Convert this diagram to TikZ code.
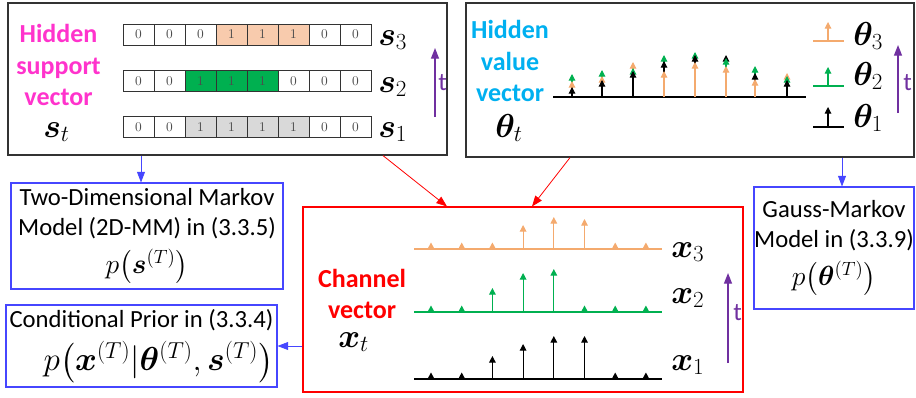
\documentclass[tikz,border=0pt]{standalone}
\usepackage{amsmath}
\usepackage{bm}
\usepackage{fontspec}
\newfontfamily\calib{Carlito}
\usetikzlibrary{arrows.meta,positioning}

\definecolor{suppmag}{RGB}{255,51,204}
\definecolor{valcyan}{RGB}{0,176,240}
\definecolor{orng}{RGB}{244,170,110}
\definecolor{cellorng}{RGB}{248,203,173}
\definecolor{grn}{RGB}{0,176,80}
\definecolor{cellgray}{RGB}{217,217,217}
\definecolor{tpurple}{RGB}{112,48,160}
\definecolor{mblue}{RGB}{70,70,255}

\begin{document}
\begin{tikzpicture}[x=0.75pt,y=-0.75pt,
  panel/.style={draw=black!80, line width=0.9pt},
  modelbox/.style={draw=mblue, line width=0.8pt, inner sep=0pt,
    font=\calib\fontsize{18.5}{22}\selectfont},
  cell/.style={draw=black!80, line width=0.5pt, minimum width=23.25pt,
    minimum height=15.5pt, inner sep=0pt, text=black!70,
    font=\fontsize{10}{10}\selectfont},
  headline/.style={font=\calib\bfseries\fontsize{19.5}{23.5}\selectfont,
    align=center, inner sep=0pt},
  vlab/.style={font=\fontsize{25}{25}\selectfont, inner sep=0pt, anchor=base west},
  tarrow/.style={tpurple, line width=1pt, -{Triangle[width=6pt,length=8pt]}},
  tlab/.style={tpurple, font=\calib\fontsize{19}{19}\selectfont, inner sep=0pt,
    anchor=base west},
  link/.style={line width=0.6pt, -{Triangle[width=6pt,length=8pt]}},
  stem/.style={line width=0.8pt, -{Triangle[width=5pt,length=5pt]}},
]
\useasboundingbox (0,0) rectangle (916,397);

% Define nodes
\node[panel, minimum width=329.25pt, minimum height=114pt] (supp) at (227.5,79) {};
\node[panel, minimum width=336pt, minimum height=115.5pt] (val) at (690,80) {};
\node[draw=red, line width=0.8pt, minimum width=330pt, minimum height=138.75pt] (chan) at (523,299.5) {};

\node[modelbox, minimum width=204pt, minimum height=79.5pt, align=center] (mm) at (147,236)
  {Two-Dimensional Markov\\Model (2D-MM) in (3.3.5)\\[7pt]
   \fontsize{21}{22}\selectfont$p\big(\bm{s}^{(T)}\big)$};
\node[modelbox, minimum width=203.25pt, minimum height=61.5pt, align=right] (cond) at (141.5,346)
  {Conditional Prior in (3.3.4)\\[7pt]
   \fontsize{23}{24}\selectfont$p\big(\bm{x}^{(T)}|\bm{\theta}^{(T)},\bm{s}^{(T)}\big)$};
\node[modelbox, minimum width=120pt, minimum height=91.5pt, align=center] (gm) at (834,248)
  {Gauss-Markov\\Model in (3.3.9)\\[7pt]
   \fontsize{21}{22}\selectfont$p\big(\bm{\theta}^{(T)}\big)$};

% support vectors
\node[headline, text=suppmag] (supptxt) at (58.5,65) {Hidden\\support\\vector};
\node[vlab] (st) at (43,137) {$\bm{s}_t$};
\foreach \row/\yy/\col/\bits in {3/34.5/cellorng/{0,0,0,1,1,1,0,0},
                                 2/81/grn/{0,0,1,1,1,0,0,0},
                                 1/127/cellgray/{0,0,1,1,1,1,0,0}} {
  \foreach \b [count=\i] in \bits {
    \ifnum\b=1 \def\fc{\col}\else\def\fc{white}\fi
    \node[cell, fill=\fc] (c\row\i) at ({123+31*(\i-0.5)},\yy) {\b};
  }
}
\node[vlab] (s3) at (378,45) {$\bm{s}_3$};
\node[vlab] (s2) at (378,92) {$\bm{s}_2$};
\node[vlab] (s1) at (378,137) {$\bm{s}_1$};
\draw[tarrow] (435,117) -- (435,48);
\node[tlab] (tsupp) at (438,90) {t};

% value vectors
\node[headline, text=valcyan] (valtxt) at (510,61) {Hidden\\value\\vector};
\node[vlab] (tht) at (495,137) {$\bm{\theta}_t$};
\draw[line width=0.8pt] (553,97) -- (806,97);
\foreach \x/\h/\c in {572/23/grn, 572/16/orng, 572/10/black,
                      602/27/grn, 602/21/orng, 602/17/black,
                      633/35/orng, 633/29/grn, 633/26/black,
                      664/42/grn, 664/36/black, 664/26/orng,
                      695/45/grn, 695/42/black, 695/35/orng,
                      726/42/black, 726/39/grn, 726/31/orng,
                      755/31/grn, 755/24/black, 755/18/orng,
                      787/24/orng, 787/21/grn, 787/17/black}
  \draw[stem, \c] (\x,97) -- (\x,97-\h);
\foreach \yy/\tip/\c/\k in {41/22/orng/3, 86/67/grn/2, 127/107/black/1} {
  \draw[\c, line width=0.8pt] (813,\yy) -- (844,\yy);
  \draw[stem, \c] (828,\yy) -- (828,\tip);
}
\node[vlab] (th3) at (853,45) {$\bm{\theta}_3$};
\node[vlab] (th2) at (853,85) {$\bm{\theta}_2$};
\node[vlab] (th1) at (853,127) {$\bm{\theta}_1$};
\draw[tarrow] (898,113) -- (898,45);
\node[tlab] (tval) at (903,90) {t};

% channel vectors
\node[headline, text=red] (chantxt) at (362,294) {Channel\\vector};
\node[vlab] (xt) at (338,347) {$\bm{x}_t$};
\foreach \base/\c/\hs in {249/orng/{0,0,0,24,32,30,0,0},
                          312/grn/{0,0,24,39,43,0,0,0},
                          379/black/{0,0,23,35,43,43,0,0}} {
  \draw[\c, line width=0.8pt] (414,\base) -- (662,\base);
  \foreach \h [count=\i] in \hs {
    \pgfmathsetmacro\x{431+30.7*(\i-1)}
    \ifnum\h=0
      \fill[\c] (\x-3.5,\base) -- (\x+3.5,\base) -- (\x,\base-6.5) -- cycle;
    \else
      \draw[stem, \c] (\x,\base) -- (\x,\base-\h);
    \fi
  }
}
\node[vlab] (x3) at (671,257) {$\bm{x}_3$};
\node[vlab] (x2) at (671,303) {$\bm{x}_2$};
\node[vlab] (x1) at (671,370) {$\bm{x}_1$};
\draw[tarrow] (728,363) -- (728,273);
\node[tlab] (tchan) at (733,320) {t};

% Connect the nodes
\draw[link, mblue] (141,0 |- supp.south) -- (141,0 |- mm.north);
\draw[link, mblue] (842,0 |- val.south) -- (842,0 |- gm.north);
\draw[link, mblue] (chan.west |- cond.east) -- (cond.east);
\draw[link, red] (383,0 |- supp.south) -- (447,0 |- chan.north);
\draw[link, red] (570,0 |- val.south) -- (532,0 |- chan.north);

\end{tikzpicture}
\end{document}
